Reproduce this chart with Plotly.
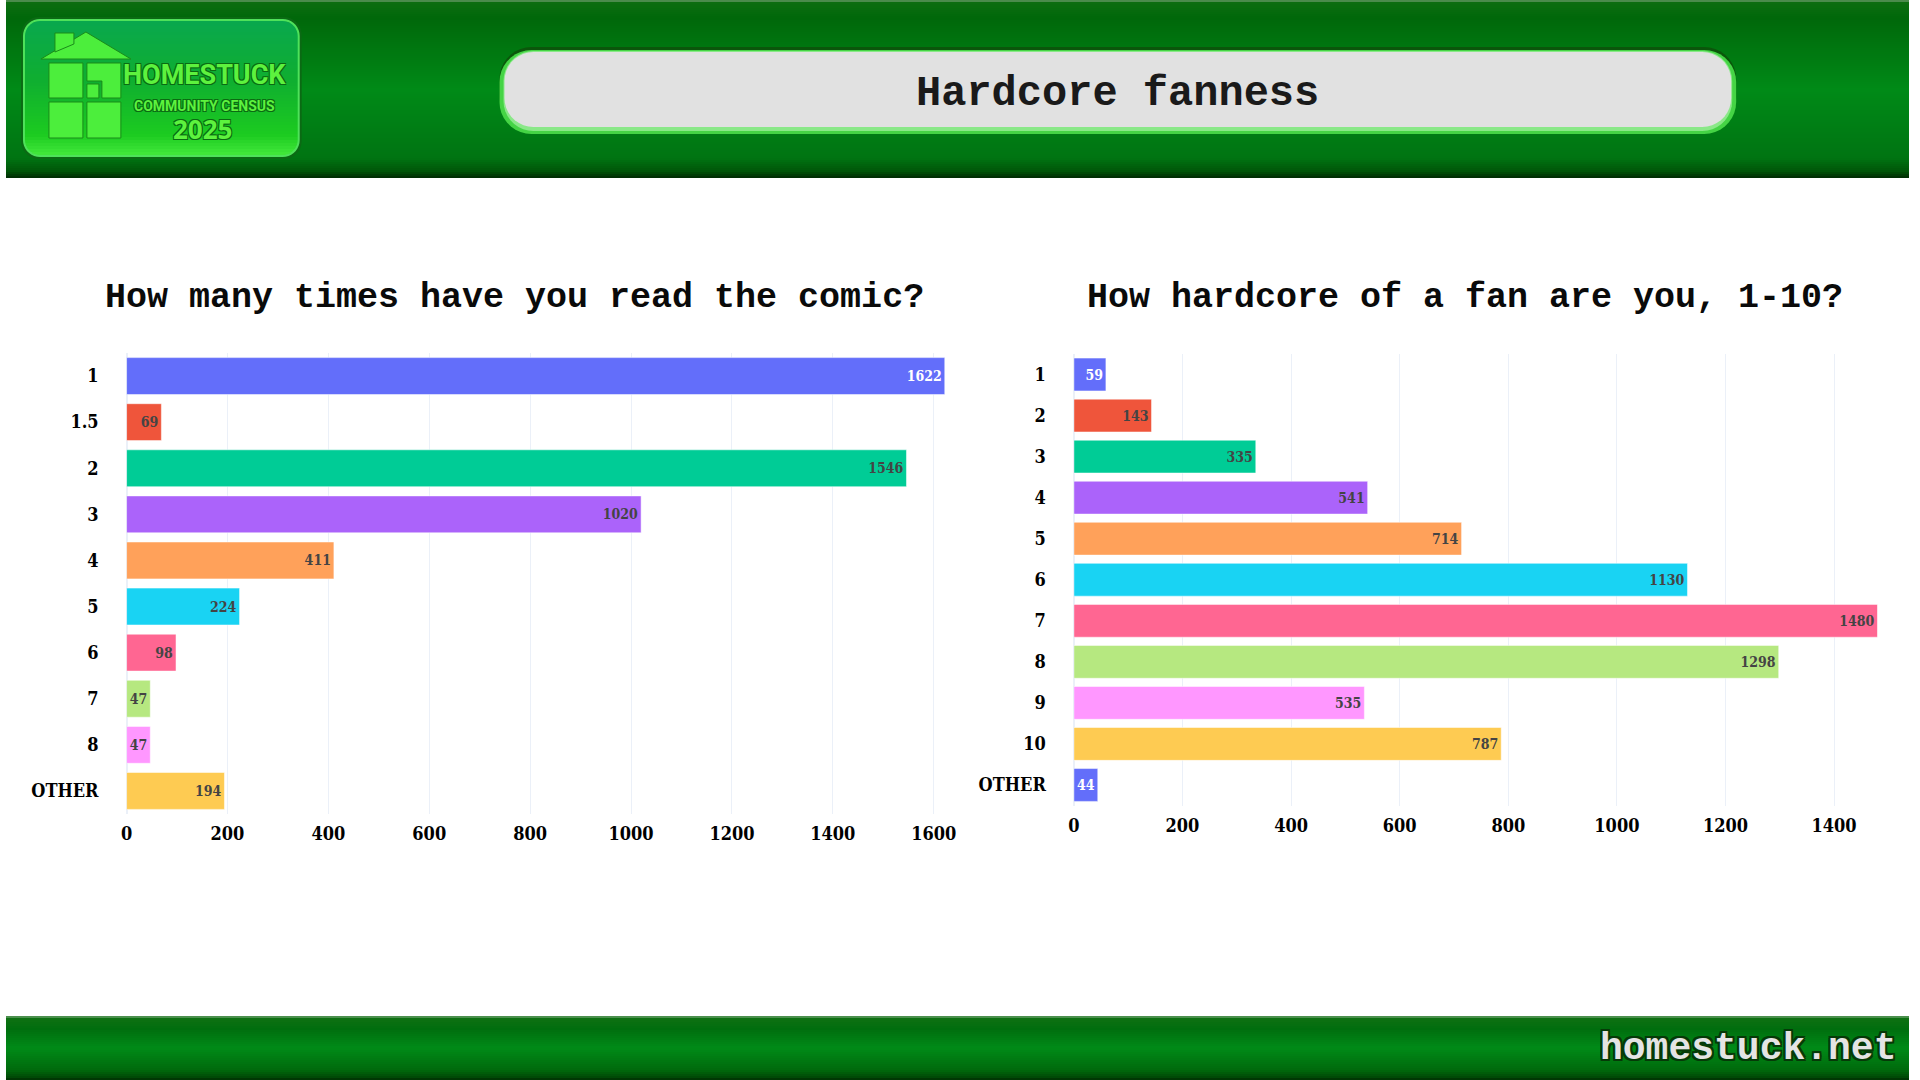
import numpy as np
import plotly.graph_objects as go

# ---------------- data ----------------
reads_labels = ["1", "1.5", "2", "3", "4", "5", "6", "7", "8", "OTHER"]
reads_values = [1622, 69, 1546, 1020, 411, 224, 98, 47, 47, 194]

fan_labels = ["1", "2", "3", "4", "5", "6", "7", "8", "9", "10", "OTHER"]
fan_values = [59, 143, 335, 541, 714, 1130, 1480, 1298, 535, 787, 44]

reads_ticks = [0, 200, 400, 600, 800, 1000, 1200, 1400, 1600]
fan_ticks = [0, 200, 400, 600, 800, 1000, 1200, 1400]

page_title = "Hardcore fanness"
reads_title = "How many times have you read the comic?"
fan_title = "How hardcore of a fan are you, 1-10?"
site_text = "homestuck.net"

palette = ["#636EFA", "#EF553B", "#00CC96", "#AB63FA", "#FFA15A",
           "#19D3F3", "#FF6692", "#B6E880", "#FF97FF", "#FECB52"]

W, H = 1920, 1080
SERIF = "DejaVu Serif Condensed, DejaVu Serif"
TICKFONT = dict(family=SERIF, size=18, color="#000000", weight="bold")
BARFONT = dict(family=SERIF, size=14, weight="bold")
MONO = "Liberation Mono"


def X(p):
    # horizontal pixel -> paper (small correction for the page viewport)
    return ((p - 5) / 0.99219) / W


def Y(p):
    return 1 - p / H


fig = go.Figure()


def bar(labels, values, xa, ya, angle=None):
    b = go.Bar(
        y=labels, x=values, orientation="h",
        marker=dict(color=[palette[i % len(palette)] for i in range(len(values))],
                    line=dict(color="white", width=0.5)),
        text=[str(v) for v in values], textposition="inside",
        insidetextanchor="end", textfont=BARFONT,
        xaxis=xa, yaxis=ya, showlegend=False,
    )
    if angle is not None:
        b.textangle = angle
    return b


fig.add_trace(bar(reads_labels, reads_values, "x", "y", 0))
fig.add_trace(bar(fan_labels, fan_values, "x2", "y2"))

# ---------- decorations (pixel helpers -> paper coords) ----------
shapes = []


def hex2rgb(h):
    h = h.lstrip("#")
    return [int(h[i:i + 2], 16) for i in (0, 2, 4)]


def interp(stops, y):
    ys = [s[0] for s in stops]
    cs = [hex2rgb(s[1]) for s in stops]
    rgb = [np.interp(y, ys, [c[k] for c in cs]) for k in range(3)]
    return "rgb({:.0f},{:.0f},{:.0f})".format(*rgb)


def poly_path(pts):
    return "M " + " L ".join(f"{X(a):.5f},{Y(b):.5f}" for a, b in pts) + " Z"


def band_fill(y0, y1, stops, step=2):
    y = y0
    while y < y1:
        yb = min(y + step, y1)
        shapes.append(dict(type="rect", xref="paper", yref="paper",
                           x0=0, x1=1, y0=Y(y), y1=Y(min(yb + 0.6, y1)),
                           fillcolor=interp(stops, (y + yb) / 2), line=dict(width=0),
                           layer="below"))
        y = yb


def rr_inset(y, y0, y1, r):
    if y < y0 + r:
        d = y0 + r - y
        return r - np.sqrt(max(r * r - d * d, 0))
    if y > y1 - r:
        d = y - (y1 - r)
        return r - np.sqrt(max(r * r - d * d, 0))
    return 0.0


def rr_grad(x0, y0, x1, y1, r, stops, step=2):
    y = y0
    while y < y1:
        yb = min(y + step, y1)
        ye = min(yb + 0.6, y1)
        a, b = rr_inset(y, y0, y1, r), rr_inset(ye, y0, y1, r)
        pts = [(x0 + a, y), (x1 - a, y), (x1 - b, ye), (x0 + b, ye)]
        shapes.append(dict(type="path", xref="paper", yref="paper", path=poly_path(pts),
                           fillcolor=interp(stops, (y + yb) / 2), line=dict(width=0),
                           layer="below"))
        y = yb


def rr_pts(x0, y0, x1, y1, r, n=10):
    pts = []
    corners = [(x1 - r, y0 + r, -90, 0), (x1 - r, y1 - r, 0, 90),
               (x0 + r, y1 - r, 90, 180), (x0 + r, y0 + r, 180, 270)]
    for cx, cy, a0, a1 in corners:
        for t in np.linspace(np.radians(a0), np.radians(a1), n):
            pts.append((cx + r * np.cos(t), cy + r * np.sin(t)))
    return pts


def rr_shape(x0, y0, x1, y1, r, fill, line=None, layer="below"):
    shapes.append(dict(type="path", xref="paper", yref="paper",
                       path=poly_path(rr_pts(x0, y0, x1, y1, r)),
                       fillcolor=fill, layer=layer,
                       line=dict(width=line[1], color=line[0]) if line else dict(width=0)))


# header & footer gradient bands
band_fill(0, 178, [(0, "#6a9a6a"), (3, "#0c6d10"), (18, "#00680a"), (90, "#008a17"),
                   (158, "#007412"), (171, "#005508"), (178, "#002a02")])
band_fill(1016, 1080, [(1016, "#6aa06a"), (1019, "#0e7012"), (1029, "#006e0e"),
                       (1048, "#008a17"), (1070, "#006a0c"), (1077, "#004a06"),
                       (1080, "#002e02")])

# logo plate
rr_shape(20, 17, 301, 159, 18, "#0b6a14")
rr_grad(23, 20, 298, 156, 16, [(20, "#09a84e"), (80, "#0fae30"), (135, "#1ccb20"),
                                (156, "#45ea3c")], step=3)
rr_shape(23, 20, 298, 156, 16, "rgba(0,0,0,0)", line=("#4ee25a", 2))

# title box
rr_shape(499, 47, 1737, 130, 32, "#0b560b")
rr_shape(499, 50, 1737, 134, 32, "#45d445")
rr_shape(503, 51, 1733, 131, 30, "#8ae888")
rr_shape(504, 52, 1732, 127, 29, "#e1e1e1")

# logo house
house = "#4cee3c"
edge = dict(color="#1a8a1a", width=1)


def poly(pts, fill=house):
    shapes.append(dict(type="path", xref="paper", yref="paper", path=poly_path(pts),
                       fillcolor=fill, line=edge, layer="below"))


poly([(40, 59), (85, 32), (130, 59)])
poly([(54, 33), (73, 33), (73, 44), (54, 52)])
for (a, b, c, d) in [(48, 63, 82, 98), (48, 102, 82, 138), (86, 102, 120, 138)]:
    poly([(a, b), (c, b), (c, d), (a, d)])
poly([(86, 63), (120, 63), (120, 98), (101, 98), (101, 81), (86, 81)])
poly([(86, 84), (98, 84), (98, 98), (86, 98)])

annotations = []


def text(x, y, s, font, xanchor="center"):
    annotations.append(dict(x=X(x), y=Y(y), xref="paper", yref="paper", text=s,
                            showarrow=False, xanchor=xanchor, yanchor="middle", font=font))


glow = "1px 1px 0 #0b6a12, -1px -1px 0 #0b6a12, 1px -1px 0 #0b6a12, -1px 1px 0 #0b6a12"
text(204, 75, "HOMESTUCK", dict(family="Roboto", size=27,
                                  color="#5df23e", weight="bold", shadow=glow))
text(204, 106, "COMMUNITY CENSUS", dict(family="Roboto", size=14,
                                         color="#5df23e", weight="bold", shadow=glow))
text(202, 129, "2025", dict(family="Open Sans, Roboto", size=26,
                            color="#5df23e", weight="bold", shadow=glow))

text(1118, 94, page_title, dict(family=MONO, size=42, color="#1a1a1a", weight="bold"))
text(514, 298, reads_title, dict(family=MONO, size=35, color="#0a0a0a", weight="bold"))
text(1466, 298, fan_title, dict(family=MONO, size=35, color="#0a0a0a", weight="bold"))

outline = ("2px 2px 0 #063a08, -2px -2px 0 #063a08, 2px -2px 0 #063a08, -2px 2px 0 #063a08, "
           "0 2px 0 #063a08, 0 -2px 0 #063a08, 2px 0 0 #063a08, -2px 0 0 #063a08")
text(1899, 1048, site_text, dict(family=MONO, size=38, color="#e4e4e4", weight="bold",
                                 shadow=outline), xanchor="right")

axis_common = dict(showgrid=True, gridcolor="#EBF0F8", zeroline=True,
                   zerolinecolor="#EBF0F8", zerolinewidth=2, showline=False,
                   tickfont=TICKFONT, ticks="", fixedrange=True)
yaxis_common = dict(type="category", categoryorder="array", autorange="reversed",
                    showgrid=False, zeroline=False, showline=False,
                    tickfont=TICKFONT, ticks="", ticklabelstandoff=27, fixedrange=True)

fig.update_layout(
    width=W, height=H, autosize=False,
    margin=dict(l=0, r=0, t=0, b=0, pad=0),
    template="plotly_white",
    paper_bgcolor="white", plot_bgcolor="rgba(0,0,0,0)",
    bargap=0.2, showlegend=False,
    xaxis=dict(domain=[X(125.7), X(944.8)], range=[0, max(reads_values)],
               tickvals=reads_ticks, anchor="y", ticklabelstandoff=7, **axis_common),
    yaxis=dict(domain=[Y(814), Y(353)], anchor="x", categoryarray=reads_labels,
               **yaxis_common),
    xaxis2=dict(domain=[X(1074), X(1878.5)], range=[0, max(fan_values)],
                tickvals=fan_ticks, anchor="y2", ticklabelstandoff=7, **axis_common),
    yaxis2=dict(domain=[Y(805.5), Y(354)], anchor="x2", categoryarray=fan_labels,
                **yaxis_common),
    shapes=shapes,
    annotations=annotations,
)

fig.write_html("out.html", config={"responsive": False})
